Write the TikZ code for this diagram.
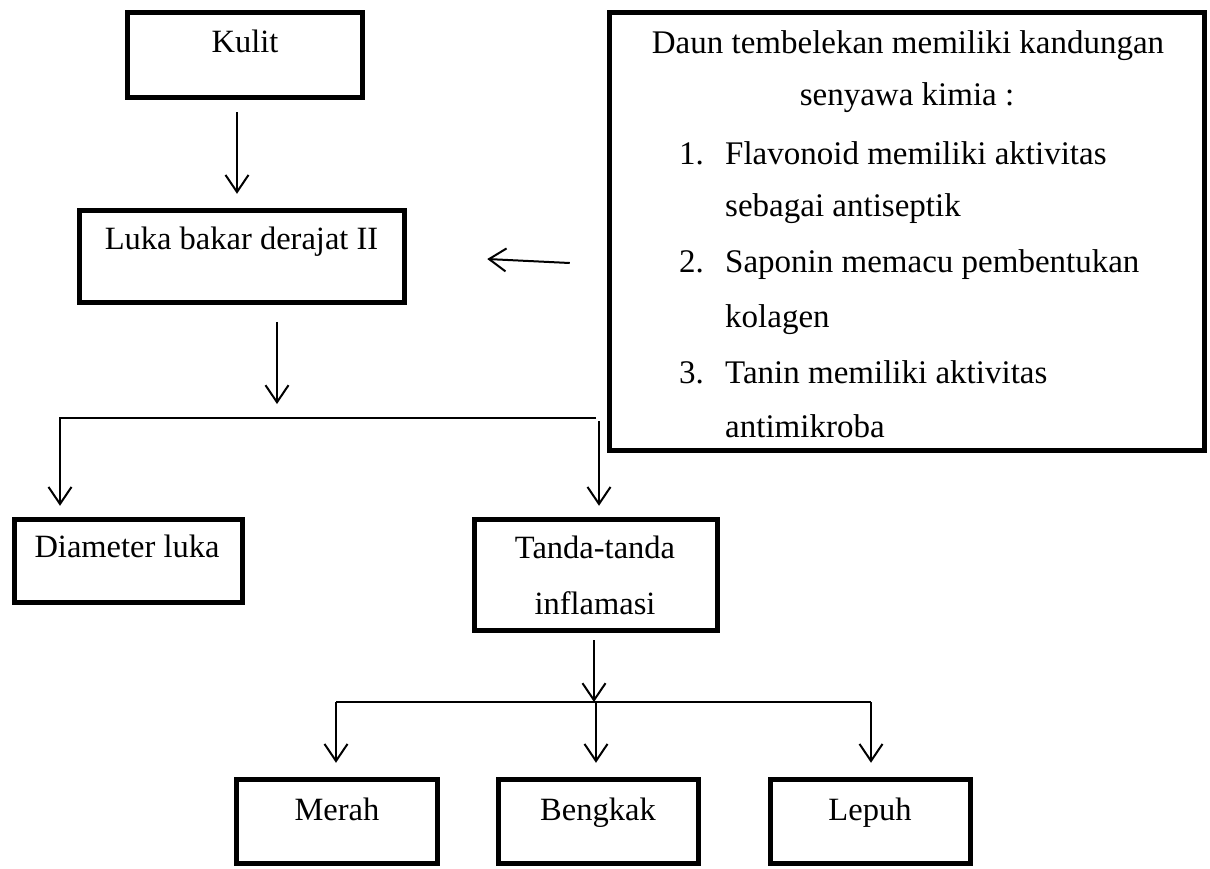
\documentclass[tikz,border=0pt]{standalone}
\usepackage{fontspec}
\setmainfont{Liberation Serif}
\usetikzlibrary{arrows.meta}
\begin{document}
\begin{tikzpicture}[x=1pt,y=-1pt,
  box/.style={draw, line width=4.5pt, inner sep=0pt},
  lbl/.style={anchor=base, inner sep=0pt, font=\fontsize{32.5}{39}\selectfont},
  lblb/.style={anchor=base, inner sep=0pt, font=\fontsize{33}{40}\selectfont},
  lblw/.style={anchor=base west, inner sep=0pt, font=\fontsize{33}{40}\selectfont},
  conn/.style={line width=2pt},
  arr/.style={line width=2pt, -{Straight Barb[length=17pt,width=23pt,line width=2pt]}}]
\path[use as bounding box] (0,0) rectangle (1210,868);
% boxes
\node[box, minimum width=235pt, minimum height=85pt] (kulit) at (245,55) {};
\node[box, minimum width=325pt, minimum height=92pt] (luka) at (242,256.5) {};
\node[box, minimum width=595pt, minimum height=438pt] (big) at (907,231.5) {};
\node[box, minimum width=228pt, minimum height=83pt] (diam) at (128.5,561) {};
\node[box, minimum width=243pt, minimum height=111pt] (tanda) at (596,575) {};
\node[box, minimum width=201pt, minimum height=84pt] (merah) at (337,821.5) {};
\node[box, minimum width=200pt, minimum height=84pt] (bengkak) at (598.5,821.5) {};
\node[box, minimum width=200pt, minimum height=84pt] (lepuh) at (870.5,821.5) {};
% labels
\node[lbl] (tkulit) at (245,52) {Kulit};
\node[lbl] (tluka) at (241.5,249) {Luka bakar derajat II};
\node[lbl] (tdiam) at (127,557) {Diameter luka};
\node[lbl] (ttanda1) at (595,558) {Tanda-tanda};
\node[lbl] (ttanda2) at (595,614) {inflamasi};
\node[lbl] (tmerah) at (337,820) {Merah};
\node[lbl] (tbengkak) at (598,820) {Bengkak};
\node[lbl] (tlepuh) at (870,820) {Lepuh};
% big box text
\node[lblb] (b1) at (908,53) {Daun tembelekan memiliki kandungan};
\node[lblb] (b2) at (907,105) {senyawa kimia :};
\node[lblw] (n1) at (679,164) {1.};
\node[lblw] (i1a) at (725,164) {Flavonoid memiliki aktivitas};
\node[lblw] (i1b) at (725,216) {sebagai antiseptik};
\node[lblw] (n2) at (679,272) {2.};
\node[lblw] (i2a) at (725,272) {Saponin memacu pembentukan};
\node[lblw] (i2b) at (725,327) {kolagen};
\node[lblw] (n3) at (679,383) {3.};
\node[lblw] (i3a) at (725,383) {Tanin memiliki aktivitas};
\node[lblw] (i3b) at (725,437) {antimikroba};
% connectors
\draw[arr] ([shift={(-8,12.5)}]kulit.south) -- ([shift={(-5,-14.5)}]luka.north);
\draw[arr] ([shift={(-37.5,31.5)}]big.west) -- ([shift={(80.5,2.5)}]luka.east);
\coordinate (j1) at (277,404);
\draw[arr, shorten <=17pt] (luka.south -| j1) -- (j1);
\coordinate (bl) at (60,418);
\coordinate (br) at (596,418);
\coordinate (br2) at (599,421);
\draw[arr, shorten >=11.5pt] (br) -- (bl) -- (bl |- diam.north);
\draw[arr, shorten >=11.5pt] (br2) -- (br2 |- tanda.north);
\coordinate (j2) at (594,702);
\draw[arr, shorten <=7.5pt] (tanda.south -| j2) -- (j2);
\coordinate (cl) at (336,702);
\coordinate (cm) at (596,702);
\coordinate (cr) at (871,702);
\draw[conn] (cl) -- (cr);
\draw[arr, shorten >=14.5pt] (cl) -- (cl |- merah.north);
\draw[arr, shorten >=14.5pt] (cm) -- (cm |- bengkak.north);
\draw[arr, shorten >=14.5pt] (cr) -- (cr |- lepuh.north);
\end{tikzpicture}
\end{document}
